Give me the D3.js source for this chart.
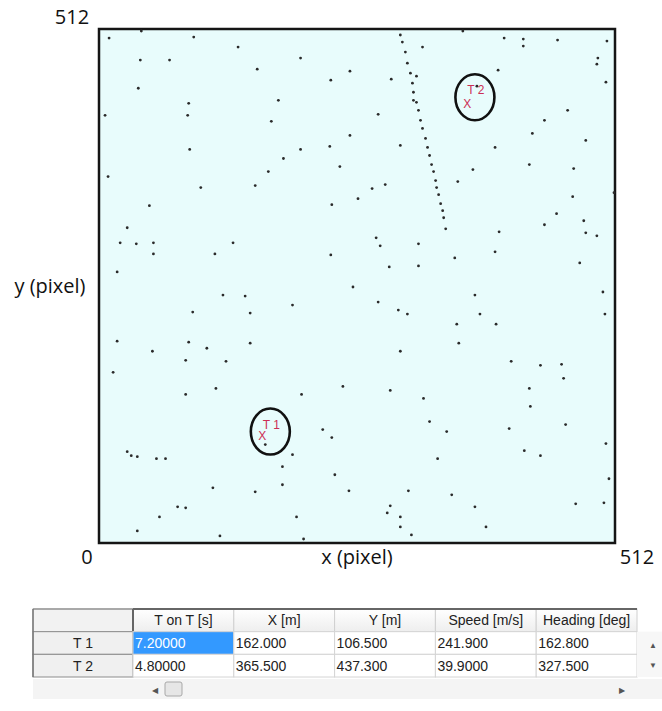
<!DOCTYPE html>
<html lang="en">
<head>
<meta charset="utf-8">
<style>
  body { margin: 0; background: #fff; }
  .frame { fill: #e8fcfc; stroke: #151515; stroke-width: 2.5px; }
  .dot { fill: #2a2a2a; }
  .ring { fill: none; stroke: #111; stroke-width: 2.6px; }
  .tlabel { fill: #cc2e55; font-family: "Liberation Sans", Arial, sans-serif; font-size: 12px; }
  .axlabel { fill: #111; font-family: "Open Sans", sans-serif; font-size: 20px; }
  .cell text, .tbl text { font-family: "Liberation Sans", Arial, sans-serif; font-size: 14px; fill: #222; }
</style>
</head>
<body>
<svg width="662" height="711"></svg>

<script src="https://d3js.org/d3.v7.min.js"></script>
<script>

// detections (pixel coords, 0..512)
var dotX = [10,42,94,138,41,70,200,157,249,230,39,89,178,6,88,171,249,90,200,229,183,239,168,9,101,155,257,231,50,28,21,37,54,54,115,133,230,18,252,
  299,301,304,306,309,311,312,312,315,317,319,321,324,326,328,330,332,334,335,337,339,341,342,344,
  315,321,290,277,299,361,402,421,421,455,504,495,494,503,396,375,465,442,430,483,393,427,471,371,356,284,271,511,470,454,442,481,483,494,397,393,275,279,317,353,288,317,477,
  123,145,192,93,150,18,89,150,53,107,86,126,14,116,86,201,242,165,222,231,192,182,182,155,234,248,28,32,38,57,66,113,78,86,60,196,38,120,203,
  277,297,306,373,378,355,394,357,500,502,299,409,438,459,461,427,428,289,322,328,345,407,463,503,422,438,336,506,307,350,289,286,299,299,310,373,384,473,501];
var dotY = [503,510,504,494,481,481,483,472,470,461,453,438,441,426,426,420,406,392,392,395,383,375,370,365,354,356,343,337,336,314,299,298,299,288,288,299,287,270,255,
  506,499,489,478,468,458,449,441,439,431,421,413,403,394,386,377,370,361,354,347,338,331,324,313,
  465,494,462,427,396,510,503,502,495,501,500,483,477,459,471,455,431,421,408,401,394,377,373,372,360,357,353,349,345,328,317,321,309,306,310,290,304,296,298,284,275,276,279,
  247,246,237,230,229,201,200,199,191,194,182,181,170,154,148,148,156,98,113,105,88,76,58,51,68,52,91,87,86,84,84,55,36,35,26,26,12,7,4,
  240,232,228,247,228,218,218,199,250,228,191,181,177,178,164,154,136,152,144,121,111,114,118,99,92,87,84,64,52,48,37,30,26,16,8,36,16,39,40];

// tracked targets
var targetNames = ["T 1", "T 2"];
var ringX = [170, 373];
var ringY = [111, 444];

// table
var columns = ["T on T [s]", "X [m]", "Y [m]", "Speed [m/s]", "Heading [deg]"];
var tOnT = [7.2, 4.8];
var posX = [162.0, 365.5];
var posY = [106.5, 437.3];
var speed = [241.9, 39.9];
var heading = [162.8, 327.5];

var axisTicks = [0, 512];

var svg = d3.select("svg");

var x = d3.scaleLinear().domain([0, 512]).range([99, 615]);
var y = d3.scaleLinear().domain([0, 512]).range([543, 29]);

svg.append("rect")
    .attr("class", "frame")
    .attr("x", x(0)).attr("y", y(512))
    .attr("width", x(512) - x(0)).attr("height", y(0) - y(512));

svg.append("g").selectAll("circle")
    .data(d3.range(dotX.length))
    .enter().append("circle")
    .attr("class", "dot")
    .attr("cx", function (i) { return x(dotX[i]); })
    .attr("cy", function (i) { return y(dotY[i]); })
    .attr("r", 1.4);

// target rings, names and X markers
var tg = svg.append("g").selectAll("g")
    .data(d3.range(targetNames.length))
    .enter().append("g");

tg.append("ellipse")
    .attr("class", "ring")
    .attr("cx", function (i) { return x(ringX[i]); })
    .attr("cy", function (i) { return y(ringY[i]); })
    .attr("rx", 19.5).attr("ry", 23);

tg.append("text")
    .attr("class", "tlabel")
    .attr("x", function (i) { return x(ringX[i]) + 1; })
    .attr("y", function (i) { return y(ringY[i]) - 3; })
    .attr("text-anchor", "middle")
    .text(function (i) { return targetNames[i]; });

tg.append("text")
    .attr("class", "tlabel")
    .attr("x", function (i) { return x(posX[i]); })
    .attr("y", function (i) { return y(posY[i]) + 4; })
    .attr("text-anchor", "middle")
    .text("X");

// axis labels
svg.append("text").attr("class", "axlabel")
    .attr("x", x(axisTicks[0]) - 12).attr("y", y(0) + 21)
    .attr("text-anchor", "middle").text(axisTicks[0]);
svg.append("text").attr("class", "axlabel")
    .attr("x", x(axisTicks[1]) + 22).attr("y", y(0) + 21)
    .attr("text-anchor", "middle").text(axisTicks[1]);
svg.append("text").attr("class", "axlabel")
    .attr("x", x(axisTicks[0]) - 27).attr("y", y(axisTicks[1]) - 5)
    .attr("text-anchor", "middle").text(axisTicks[1]);
svg.append("text").attr("class", "axlabel")
    .attr("x", (x(0) + x(512)) / 2).attr("y", y(0) + 21)
    .attr("text-anchor", "middle").text("x (pixel)");
svg.append("text").attr("class", "axlabel")
    .attr("x", 50).attr("y", (y(0) + y(512)) / 2 + 7)
    .attr("text-anchor", "middle").text("y (pixel)");

// ---- data grid below ----
var fmt = function (v) { return v.toPrecision(6); };
var rows = targetNames.map(function (n, i) {
    return [tOnT[i], posX[i], posY[i], speed[i], heading[i]];
});

var col = d3.scaleBand().domain(columns).range([133, 637]);
var row = d3.scaleBand().domain(["head"].concat(targetNames)).range([609, 677]);
var left = 33, right = 662;

var defs = svg.append("defs");
var grad = defs.append("linearGradient").attr("id", "hdr").attr("x1", 0).attr("x2", 0).attr("y1", 0).attr("y2", 1);
grad.append("stop").attr("offset", "0%").attr("stop-color", "#ffffff");
grad.append("stop").attr("offset", "100%").attr("stop-color", "#eeeeee");

var tbl = svg.append("g").attr("class", "tbl");

// corner + header
tbl.append("rect").attr("x", left).attr("y", row("head"))
    .attr("width", col.range()[0] - left).attr("height", row.bandwidth())
    .attr("fill", "#f2f2f2").attr("stroke", "#b0b0b0");
tbl.selectAll(".hcell").data(columns).enter().append("rect")
    .attr("class", "hcell")
    .attr("x", function (d) { return col(d); }).attr("y", row("head"))
    .attr("width", col.bandwidth()).attr("height", row.bandwidth())
    .attr("fill", "url(#hdr)").attr("stroke", "#d0d0d0");
tbl.selectAll(".htext").data(columns).enter().append("text")
    .attr("class", "htext")
    .attr("x", function (d) { return col(d) + col.bandwidth() / 2; })
    .attr("y", row("head") + row.bandwidth() / 2 + 5)
    .attr("text-anchor", "middle")
    .text(function (d) { return d; });
tbl.append("line").attr("x1", left).attr("x2", col.range()[0])
    .attr("y1", row("head")).attr("y2", row("head"))
    .attr("stroke", "#9a9a9a").attr("stroke-width", 1.5);
tbl.append("line").attr("x1", col.range()[0]).attr("x2", col.range()[1])
    .attr("y1", row("head")).attr("y2", row("head"))
    .attr("stroke", "#666").attr("stroke-width", 2);
tbl.append("line").attr("x1", col.range()[0]).attr("x2", col.range()[0])
    .attr("y1", row("head")).attr("y2", row("head") + row.bandwidth())
    .attr("stroke", "#666").attr("stroke-width", 2);

// row headers
tbl.selectAll(".rh").data(targetNames).enter().append("rect")
    .attr("class", "rh")
    .attr("x", left).attr("y", function (d) { return row(d); })
    .attr("width", col.range()[0] - left).attr("height", row.bandwidth())
    .attr("fill", "#f0f0f0").attr("stroke", "#8c8c8c");
tbl.selectAll(".rht").data(targetNames).enter().append("text")
    .attr("class", "rht")
    .attr("x", (left + col.range()[0]) / 2)
    .attr("y", function (d) { return row(d) + row.bandwidth() / 2 + 5; })
    .attr("text-anchor", "middle")
    .text(function (d) { return d; });

// data cells
rows.forEach(function (r, ri) {
    var name = targetNames[ri];
    r.forEach(function (v, ci) {
        var sel = ri === 0 && ci === 0;
        tbl.append("rect")
            .attr("x", col(columns[ci])).attr("y", row(name))
            .attr("width", col.bandwidth()).attr("height", row.bandwidth())
            .attr("fill", sel ? "#3399ff" : "#fff").attr("stroke", "#d4d4d4");
        tbl.append("text")
            .attr("x", col(columns[ci]) + 2)
            .attr("y", row(name) + row.bandwidth() / 2 + 5)
            .style("fill", sel ? "#fff" : "#222")
            .text(fmt(v));
    });
});

// vertical scroll strip
tbl.append("rect").attr("x", col.range()[1]).attr("y", row(targetNames[0]))
    .attr("width", right - col.range()[1]).attr("height", row.bandwidth() * 2)
    .attr("fill", "#f7f7f7");
tbl.append("text").attr("x", 653).attr("y", row(targetNames[0]) + 16)
    .attr("text-anchor", "middle").style("font-size", "8px").style("fill", "#555").text("\u25B2");
tbl.append("text").attr("x", 653).attr("y", row(targetNames[1]) + 14)
    .attr("text-anchor", "middle").style("font-size", "8px").style("fill", "#555").text("\u25BC");

// horizontal scroll bar
var sb = row.range()[1] + 2;
tbl.append("rect").attr("x", left).attr("y", sb)
    .attr("width", right - left).attr("height", 20).attr("fill", "#f4f4f4");
tbl.append("text").attr("x", 155).attr("y", sb + 14)
    .attr("text-anchor", "middle").style("font-size", "8px").style("fill", "#555").text("\u25C0");
tbl.append("rect").attr("x", 165).attr("y", sb + 3)
    .attr("width", 17).attr("height", 14).attr("rx", 2)
    .attr("fill", "#e6e6e6").attr("stroke", "#a8a8a8");
tbl.append("text").attr("x", 622).attr("y", sb + 14)
    .attr("text-anchor", "middle").style("font-size", "8px").style("fill", "#555").text("\u25B6");
tbl.append("line").attr("x1", left).attr("x2", left)
    .attr("y1", row("head")).attr("y2", row.range()[1])
    .attr("stroke", "#777").attr("stroke-width", 1.5);

</script>
</body>
</html>
